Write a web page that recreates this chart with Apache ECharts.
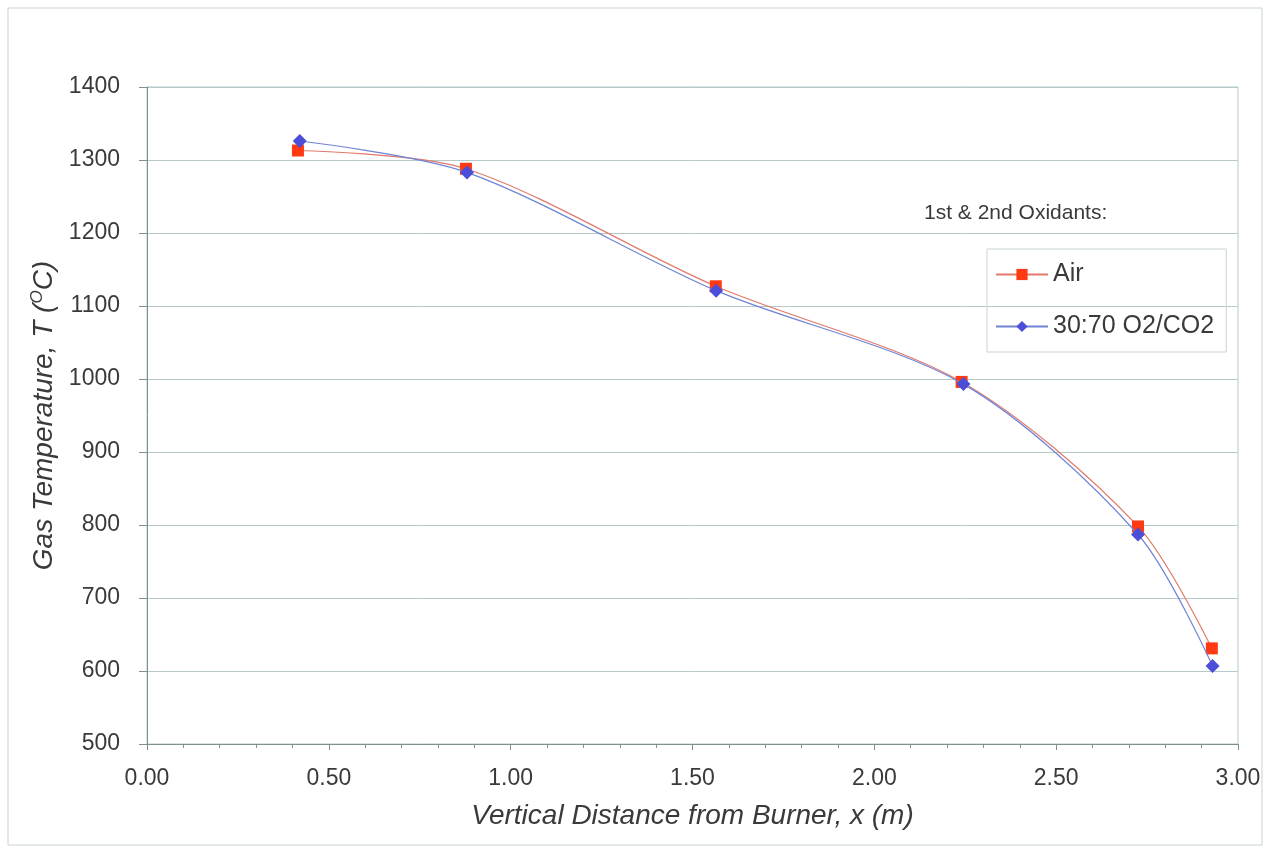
<!DOCTYPE html>
<html>
<head>
<meta charset="utf-8">
<script src="https://cdn.jsdelivr.net/npm/echarts@6/dist/echarts.min.js"></script>
<style>html,body{margin:0;padding:0;background:#fff;}#c{width:1270px;height:850px;}</style>
</head>
<body>
<div id="c"></div>
<script>
const airX = [0.415, 0.877, 1.564, 2.24, 2.725, 2.928];
const airT = [1313, 1288, 1127, 996, 798, 631];
const mixX = [0.42, 0.88, 1.565, 2.245, 2.725, 2.93];
const mixT = [1326, 1283, 1121, 993, 787, 607];
const seriesNames = ['Air', '30:70 O2/CO2'];
const legendTitle = '1st & 2nd Oxidants:';
const xTitle = 'Vertical Distance from Burner, x (m)';

const chart = echarts.init(document.getElementById('c'), null, {renderer: 'canvas'});
const font = '"Liberation Sans", Arial, sans-serif';
const gridColor = '#b5c9c9';
const axisColor = '#7e9090';
const txt = '#3a3a3a';
chart.setOption({
  backgroundColor: '#fff',
  animation: false,
  title: {
    text: legendTitle,
    left: 919, top: 198,
    textStyle: {fontFamily: font, fontSize: 21, fontWeight: 'normal', color: txt}
  },
  graphic: [{
    type: 'rect', shape: {x: 8, y: 8, width: 1254, height: 837},
    style: {fill: 'none', stroke: '#c8d2d2', lineWidth: 1}, silent: true
  }],
  legend: {
    orient: 'vertical',
    left: 987, top: 249,
    padding: [13, 12, 13, 8],
    itemGap: 27,
    itemWidth: 52, itemHeight: 14,
    borderColor: '#c8d2d2', borderWidth: 1,
    textStyle: {fontFamily: font, fontSize: 25, color: txt},
    data: seriesNames
  },
  grid: {left: 147, right: 32, top: 87, bottom: 106, show: true, borderColor: gridColor, borderWidth: 1},
  xAxis: {
    type: 'value', min: 0, max: 3, interval: 0.5,
    name: xTitle, nameLocation: 'middle', nameGap: 58,
    nameTextStyle: {fontFamily: font, fontSize: 28, fontStyle: 'italic', color: txt},
    axisLine: {show: true, lineStyle: {color: axisColor}},
    axisTick: {show: true, length: 6, lineStyle: {color: axisColor}},
    minorTick: {show: true, splitNumber: 5, length: 4, lineStyle: {color: axisColor}},
    splitLine: {show: false},
    axisLabel: {fontFamily: font, fontSize: 23, color: txt, margin: 23, formatter: v => v.toFixed(2)}
  },
  yAxis: {
    type: 'value', min: 500, max: 1400, interval: 100,
    name: 'Gas Temperature, T ({s|O}C)', nameLocation: 'middle', nameGap: 86,
    nameTextStyle: {fontFamily: font, fontSize: 28, fontStyle: 'italic', color: txt,
      rich: {s: {fontFamily: font, fontSize: 17, fontStyle: 'italic', color: txt, verticalAlign: 'top', padding: [0, 0, 14, 0]}}},
    axisLine: {show: true, lineStyle: {color: axisColor}},
    axisTick: {show: true, length: 8, lineStyle: {color: axisColor}},
    splitLine: {show: true, lineStyle: {color: gridColor, width: 1}},
    axisLabel: {fontFamily: font, fontSize: 23, color: txt, margin: 27, formatter: v => String(v)}
  },
  series: [
    {
      name: seriesNames[0], type: 'line', smooth: 0.3,
      data: airX.map((x, i) => [x, airT[i]]),
      symbol: 'rect', symbolSize: 12,
      itemStyle: {color: '#ff3a12'},
      lineStyle: {color: '#e07a6a', width: 1.2},
      z: 2
    },
    {
      name: seriesNames[1], type: 'line', smooth: 0.3,
      data: mixX.map((x, i) => [x, mixT[i]]),
      symbol: 'diamond', symbolSize: 14,
      itemStyle: {color: '#4a4ed8'},
      lineStyle: {color: '#6f84d6', width: 1.2},
      z: 3
    }
  ]
});
</script>
</body>
</html>
